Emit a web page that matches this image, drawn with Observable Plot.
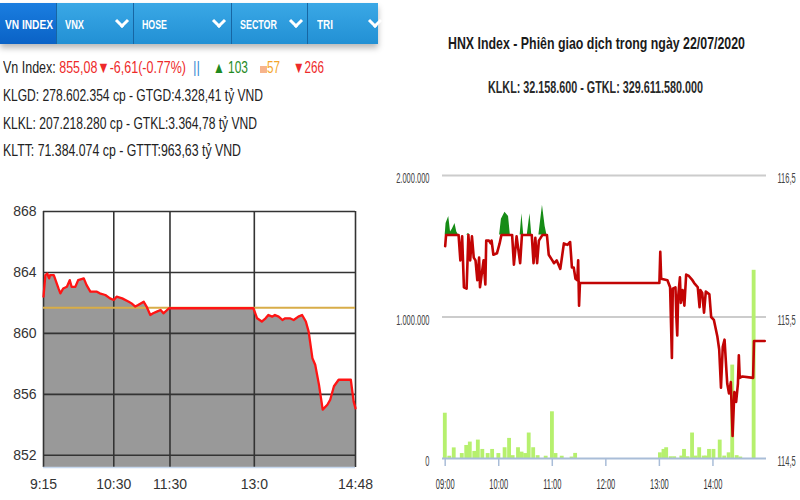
<!DOCTYPE html>
<html><head><meta charset="utf-8">
<script src="https://cdn.jsdelivr.net/npm/d3@7"></script>
<script src="https://cdn.jsdelivr.net/npm/@observablehq/plot@0.6"></script>
<style>
html,body{margin:0;padding:0}
body{width:800px;height:500px;position:relative;overflow:hidden;background:#fff;font-family:"Liberation Sans",Arial,sans-serif}
.abs{position:absolute}
.fit{position:absolute;white-space:nowrap;display:inline-block;transform-origin:0 50%}
#bar{left:0;top:3px;width:378px;height:41px;background:linear-gradient(#3aa8e6,#2290d4);box-shadow:0 4px 6px rgba(0,0,0,.28)}
#tab1{left:0;top:3px;width:56px;height:41px;background:linear-gradient(#1a7ee0,#0a62c6)}
.sep{position:absolute;top:3px;width:1px;height:41px;background:#1766a3}
.tabl{color:#fff;font-weight:bold;font-size:13px;line-height:18px;top:16px}
.chev{position:absolute;width:7px;height:7px;border-right:3px solid #fff;border-bottom:3px solid #fff;transform:rotate(45deg);top:16px}
.row{font-size:16px;line-height:20px;color:#222}
#left,#vol,#price{position:absolute}
</style></head>
<body>
<div id="bar" class="abs"></div>
<div id="tab1" class="abs"></div>
<div class="sep" style="left:56px"></div>
<div class="sep" style="left:133px"></div>
<div class="sep" style="left:231px"></div>
<div class="sep" style="left:307px"></div>
<div class="fit tabl" data-w="48" style="left:5px">VN INDEX</div>
<div class="fit tabl" data-w="19" style="left:65px">VNX</div>
<div class="fit tabl" data-w="25" style="left:142px">HOSE</div>
<div class="fit tabl" data-w="37" style="left:240px">SECTOR</div>
<div class="fit tabl" data-w="16" style="left:317px">TRI</div>
<i class="chev" style="left:117px"></i>
<i class="chev" style="left:214px"></i>
<i class="chev" style="left:291px"></i>
<i class="chev" style="left:370px"></i>

<div class="fit row" data-w="183" style="left:3px;top:58px">Vn Index: <span style="color:#ee2a2a">855,08▼-6,61(-0.77%)</span></div>
<div class="fit row" data-w="7" style="left:193px;top:58px;color:#3b8fd6">||</div>
<div class="fit row" data-w="35" style="left:213px;top:58px;color:#1f8a1f">▲ 103</div>
<div class="abs" style="left:260px;top:66px;width:7px;height:7px;background:#f7b48c"></div>
<div class="fit row" data-w="13" style="left:267px;top:58px;color:#f4a52a">57</div>
<div class="fit row" data-w="31" style="left:293px;top:58px;color:#ee2a2a">▼266</div>
<div class="fit row" data-w="260" style="left:3px;top:86px">KLGD: 278.602.354 cp - GTGD:4.328,41 tỷ VND</div>
<div class="fit row" data-w="254" style="left:3px;top:114px">KLKL: 207.218.280 cp - GTKL:3.364,78 tỷ VND</div>
<div class="fit row" data-w="238" style="left:3px;top:141px">KLTT: 71.384.074 cp - GTTT:963,63 tỷ VND</div>

<div class="fit" data-w="297" style="left:448px;top:33px;font-size:17px;line-height:22px;font-weight:bold;color:#1a1a1a">HNX Index - Phiên giao dịch trong ngày 22/07/2020</div>
<div class="fit" data-w="215" style="left:488px;top:77px;font-size:16px;line-height:22px;font-weight:bold;color:#2a2a2a">KLKL: 32.158.600 - GTKL: 329.611.580.000</div>

<div id="left" style="left:0;top:190px"></div>
<div id="vol" style="left:390px;top:150px"></div>
<div id="price" style="left:390px;top:150px"></div>

<script>
// ---------- VN-Index (left) ----------
const vnTimes = ["09:15","09:17","09:19","09:21","09:22","09:26","09:31","09:33","09:36","09:40","09:43","09:45","09:49","09:52","09:58","10:01","10:05","10:12","10:15","10:21","10:26","10:30","10:33","10:39","10:46","10:49","10:53","10:56","11:02","11:05","11:09","11:12","11:16","11:20","11:23","11:29","12:59","13:03","13:08","13:12","13:15","13:19","13:22","13:26","13:30","13:33","13:38","13:42","13:47","13:51","13:55","13:58","14:02","14:05","14:09","14:13","14:18","14:21","14:25","14:30","14:43","14:46","14:48"];
const vnValues = [862.41,863.83,863.93,863.61,863.83,863.83,862.95,862.63,862.95,863.06,863.50,863.06,863.06,863.50,863.61,863.17,862.74,862.74,862.63,862.52,862.30,862.19,862.41,862.30,862.08,861.97,861.76,861.86,862.08,861.76,861.21,861.32,861.43,861.54,861.32,861.65,861.65,860.99,860.78,860.99,861.21,861.10,861.21,861.10,860.88,860.99,860.99,860.88,861.10,861.21,860.78,860.12,858.38,857.94,856.64,855.00,855.32,855.65,856.53,856.96,856.96,855.54,855.08];
const vnRef = 861.69;
const vnYMin = 851.2, vnYMax = 868;
const vnYTicks = [852, 856, 860, 864, 868];
const vnXTicks = ["09:15","10:30","11:30","13:00","14:48"];
const vnXLabels = ["9:15","10:30","11:30","13:0","14:48"];

// ---------- HNX-Index (right) ----------
const hnxTimes = ["09:00","09:01","09:04","09:06","09:08","09:11","09:13","09:15","09:17","09:19","09:21","09:24","09:26","09:28","09:30","09:32","09:34","09:36","09:38","09:39","09:43","09:45","09:46","09:49","09:51","09:52","09:54","09:58","10:01","10:03","10:07","10:11","10:13","10:15","10:17","10:20","10:24","10:26","10:28","10:32","10:35","10:37","10:39","10:41","10:43","10:45","10:49","10:52","10:54","10:56","11:00","11:02","11:05","11:09","11:13","11:17","11:20","11:22","11:24","11:26","11:28","11:29","11:30","11:31","13:00","13:01","13:02","13:09","13:12","13:14","13:15","13:18","13:19","13:20","13:21","13:23","13:24","13:26","13:28","13:30","13:33","13:37","13:39","13:43","13:45","13:46","13:48","13:50","13:52","13:56","13:58","14:01","14:03","14:05","14:07","14:09","14:11","14:13","14:15","14:16","14:18","14:20","14:22","14:24","14:26","14:28","14:29","14:30","14:33","14:45","14:46","14:58"];
const hnxValues = [116.00,116.16,116.21,116.10,116.12,116.16,116.10,116.08,115.90,116.07,115.71,115.70,116.09,115.90,116.07,115.92,115.90,115.76,115.92,115.71,115.90,115.73,116.04,116.04,116.02,116.04,115.94,115.95,116.02,116.19,116.24,116.21,116.08,116.08,115.87,116.07,115.88,116.23,116.08,116.08,116.23,116.08,115.88,116.06,115.88,116.04,116.29,116.14,116.08,115.94,115.90,115.88,115.90,115.84,116.02,116.01,116.03,115.85,115.85,115.77,115.76,115.90,115.58,115.74,115.74,115.96,115.77,115.76,115.71,115.21,115.70,115.71,115.50,115.37,115.64,115.78,115.60,115.69,115.58,115.80,115.79,115.76,115.74,115.71,115.57,115.69,115.67,115.53,115.68,115.66,115.50,115.48,115.42,115.36,115.27,115.00,115.29,115.34,115.13,115.03,114.96,115.04,114.66,114.97,114.90,115.03,115.23,115.07,115.08,115.07,115.33,115.33];
const hnxRef = 116.08;
const volTimes = ["09:00","09:05","09:10","09:19","09:24","09:28","09:33","09:37","09:42","09:48","09:53","10:00","10:07","10:12","10:16","10:22","10:26","10:30","10:34","10:39","10:44","10:53","11:00","11:04","11:11","11:22","11:26","13:01","13:05","13:08","13:13","13:17","13:25","13:28","13:32","13:37","13:41","13:45","13:50","13:53","13:56","14:01","14:08","14:13","14:18","14:22","14:27","14:31","14:46"];
const volValues = [320000,16000,75000,35000,92000,116000,50000,130000,64000,35000,64000,35000,76000,142000,20000,76000,45000,35000,180000,76000,20000,16000,330000,35000,16000,10000,36000,40000,64000,76000,12000,12000,17000,64000,12000,180000,17000,76000,17000,17000,64000,64000,130000,17000,40000,660000,20000,10000,1330000];
const hnxXTicks = ["09:00","10:00","11:00","12:00","13:00","14:00"];
const hnxXDomain = ["08:57","15:00"];
const volTicks = [0, 1000000, 2000000];
const priceTicks = [114.5, 115.5, 116.5];

const parse = d3.utcParse("%H:%M");
const font = "Liberation Sans, Arial, sans-serif";

// Left chart
const vn = vnTimes.map((t, i) => ({t: parse(t), v: vnValues[i]}));
const vnLabel = new Map(vnXTicks.map((t, i) => [+parse(t), vnXLabels[i]]));
const left = Plot.plot({
  width: 375, height: 310, marginLeft: 43, marginRight: 20, marginTop: 21, marginBottom: 33,
  style: {background: "transparent", fontFamily: font, overflow: "visible"},
  x: {type: "utc", domain: [parse(vnXTicks[0]), parse(vnXTicks[vnXTicks.length - 1])]},
  y: {domain: [vnYMin, vnYMax]},
  marks: [
    Plot.areaY(vn, {x: "t", y1: () => vnYMin, y2: "v", fill: "#999999"}),
    Plot.gridY(vnYTicks, {stroke: "#333", strokeOpacity: 1, strokeWidth: 1.6}),
    Plot.gridX(vnXTicks.map(parse), {stroke: "#333", strokeOpacity: 1, strokeWidth: 1.6}),
    Plot.ruleY([vnYMin], {stroke: "#c6d8ee", strokeWidth: 1.5}),
    Plot.ruleY([vnRef], {stroke: "#d8ad48", strokeWidth: 2}),
    Plot.line(vn, {x: "t", y: "v", stroke: "#ff1414", strokeWidth: 2.3}),
    Plot.axisY(vnYTicks, {tickSize: 0, tickPadding: 7, fontSize: 14, fill: "#333", label: null}),
    Plot.axisX(vnXTicks.map(parse), {tickSize: 0, tickPadding: 12, fontSize: 14, fill: "#333", label: null, tickFormat: d => vnLabel.get(+d)})
  ]
});
document.getElementById("left").append(left);

// Right chart: volume
const viFmt = d3.formatLocale({decimal: ",", thousands: ".", grouping: [3], currency: ["", ""]}).format(",");
const vol = volTimes.map((t, i) => ({t: parse(t), v: volValues[i]}));
const common = {
  width: 410, height: 350, marginLeft: 52, marginRight: 34, marginTop: 25, marginBottom: 42,
  style: {background: "transparent", fontFamily: font, overflow: "visible"}
};
const volPlot = Plot.plot({
  ...common,
  x: {type: "utc", domain: hnxXDomain.map(parse)},
  y: {domain: [0, 2000000]},
  marks: [
    Plot.gridY(volTicks.slice(1), {stroke: "#cccccc", strokeOpacity: 1, strokeWidth: 2}),
    Plot.rect(vol, {x1: d => new Date(+d.t - 2 * 60000), x2: d => new Date(+d.t + 2.3 * 60000), y1: () => 0, y2: "v", fill: "#b6f06e"}),
    Plot.ruleY([0], {stroke: "#a9bdd8", strokeWidth: 2}),
    Plot.axisX(hnxXTicks.map(parse), {tickSize: 8, tickPadding: 12, stroke: "#a9bdd8", strokeWidth: 1.5, fill: "#333", fontSize: 15, label: null, tickFormat: d3.utcFormat("%H:%M")}),
    Plot.axisY(volTicks, {tickSize: 0, tickPadding: 13, fontSize: 15, fill: "#444", dy: 3, label: null, tickFormat: viFmt})
  ]
});
document.getElementById("vol").append(volPlot);

// Right chart: price
const hnx = hnxTimes.map((t, i) => ({t: parse(t), p: hnxValues[i]}));
const pricePlot = Plot.plot({
  ...common,
  x: {type: "utc", domain: hnxXDomain.map(parse), axis: null},
  y: {domain: [priceTicks[0], priceTicks[priceTicks.length - 1]]},
  marks: [
    Plot.areaY(hnx, {x: "t", y1: () => hnxRef, y2: d => Math.max(d.p, hnxRef), fill: "#168c16"}),
    Plot.line(hnx, {x: "t", y: d => Math.min(d.p, hnxRef), stroke: "#c20404", strokeWidth: 2.6}),
    Plot.axisY(priceTicks, {anchor: "right", tickSize: 0, tickPadding: 11, fontSize: 15, fill: "#444", dy: 3, label: null, tickFormat: d => d3.format(".1f")(d).replace(".", ",")})
  ]
});
document.getElementById("price").append(pricePlot);

// condensed look of the right chart's tick labels: squeeze each label horizontally about its anchor
const squeeze = 0.5;
for (const svg of [volPlot, pricePlot]) {
  svg.querySelectorAll("text").forEach(t => {
    const b = t.getBBox();
    const anchor = getComputedStyle(t).textAnchor;
    const ax = anchor === "end" ? b.x + b.width : anchor === "middle" ? b.x + b.width / 2 : b.x;
    const prev = t.getAttribute("transform") || "";
    t.setAttribute("transform", `${prev} translate(${ax} 0) scale(${squeeze} 1) translate(${-ax} 0)`.trim());
  });
}

// fit HTML texts to their widths
document.querySelectorAll(".fit").forEach(el => {
  const w = el.getBoundingClientRect().width;
  const target = +el.dataset.w;
  el.style.transform = `scaleX(${target / w})`;
});
</script>
</body></html>
